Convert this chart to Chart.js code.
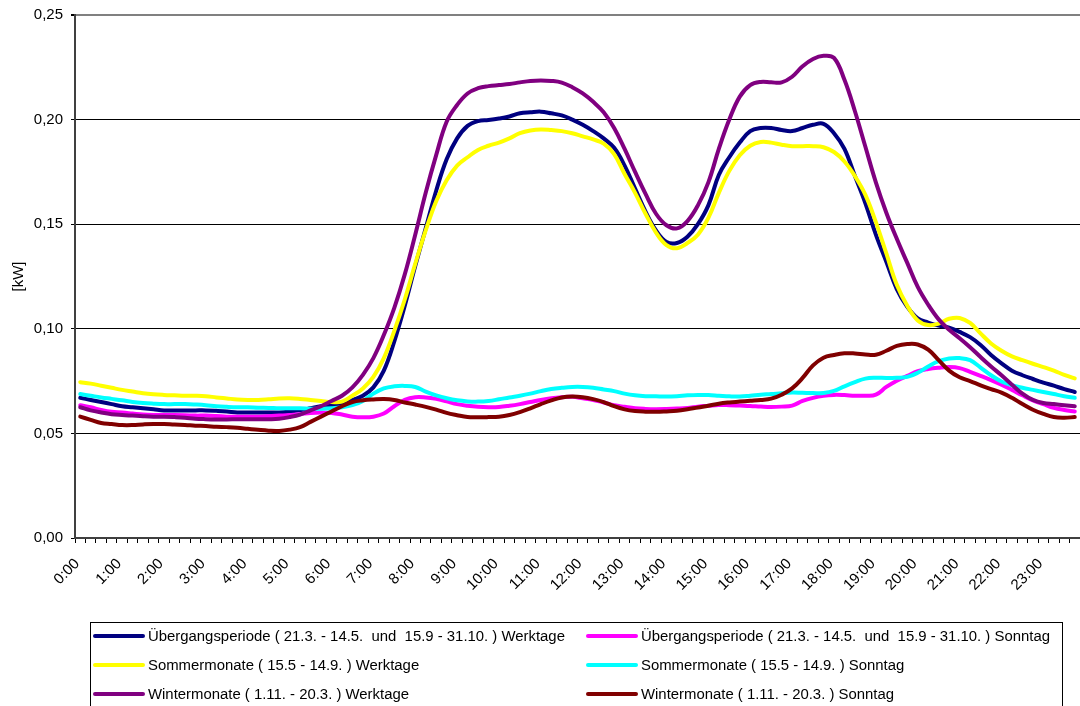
<!DOCTYPE html>
<html>
<head>
<meta charset="utf-8">
<script src="https://cdn.jsdelivr.net/npm/chart.js@4.4.1/dist/chart.umd.min.js"></script>
<style>
  html, body { margin: 0; padding: 0; background: #fff; }
  #wrap { position: relative; width: 1080px; height: 706px; overflow: hidden; }
  #legend {
    position: absolute; left: 90px; top: 622px; width: 973px; height: 100px;
    border: 1px solid #000; box-sizing: border-box;
    font: 14.9px "Liberation Sans", Arial, sans-serif; color: #000;
  }
  .item { position: absolute; display: flex; align-items: center; white-space: pre; height: 20px; }
  .swatch { width: 52px; height: 4px; border-radius: 2px; margin-right: 3px; }
</style>
</head>
<body>
<div id="wrap">
  <canvas id="chart" width="1080" height="706"></canvas>
  <div id="legend"></div>
</div>
<script>
// hour labels on the x axis; one category per quarter hour
const hours = ['0:00','1:00','2:00','3:00','4:00','5:00','6:00','7:00','8:00','9:00','10:00','11:00',
  '12:00','13:00','14:00','15:00','16:00','17:00','18:00','19:00','20:00','21:00','22:00','23:00'];
const quarters = ['00', '15', '30', '45'];
const times = hours.flatMap((h) => quarters.map((q) => h.replace(':00', ':' + q)));

const yTicks = [0, 0.05, 0.10, 0.15, 0.20, 0.25];

// [kW], 96 quarter-hour values per curve
const uebergangWerktage = [
  0.067, 0.066, 0.065, 0.064, 0.063, 0.0625, 0.062, 0.0615, 0.061, 0.061, 0.061, 0.061,
  0.061, 0.0608, 0.0605, 0.060, 0.060, 0.060, 0.060, 0.060, 0.0604, 0.061, 0.062, 0.063,
  0.0635, 0.064, 0.066, 0.068, 0.072, 0.080, 0.094, 0.111, 0.130, 0.148, 0.166, 0.181,
  0.191, 0.197, 0.1993, 0.1998, 0.2005, 0.2015, 0.203, 0.2035, 0.2038, 0.203, 0.202, 0.200,
  0.1975, 0.1945, 0.191, 0.1865, 0.178, 0.167, 0.156, 0.147, 0.1415, 0.141, 0.144, 0.150,
  0.159, 0.1735, 0.182, 0.189, 0.1945, 0.196, 0.196, 0.195, 0.1945, 0.196, 0.1975, 0.198,
  0.1935, 0.186, 0.173, 0.160, 0.145, 0.132, 0.119, 0.1105, 0.105, 0.103, 0.1015, 0.1005,
  0.0985, 0.096, 0.0923, 0.0875, 0.0835, 0.080, 0.0778, 0.076, 0.0743, 0.0728, 0.0712, 0.0698
];
const uebergangSonntag = [
  0.0635, 0.0625, 0.0612, 0.0603, 0.060, 0.0595, 0.059, 0.0588, 0.0588, 0.0588, 0.0587, 0.0585,
  0.0585, 0.0583, 0.058, 0.058, 0.058, 0.058, 0.0582, 0.0585, 0.0588, 0.0592, 0.0598, 0.060,
  0.0598, 0.059, 0.058, 0.0577, 0.058, 0.0595, 0.063, 0.066, 0.0673, 0.0672, 0.0665, 0.0653,
  0.064, 0.0632, 0.0627, 0.0625, 0.0626, 0.0632, 0.064, 0.065, 0.066, 0.0668, 0.0673, 0.0675,
  0.0668, 0.066, 0.0648, 0.0635, 0.0627, 0.062, 0.0617, 0.0616, 0.0617, 0.0619, 0.0622, 0.0628,
  0.0632, 0.0636, 0.0635, 0.0633, 0.0631, 0.0628, 0.0626, 0.0628, 0.0633, 0.0655, 0.067, 0.068,
  0.0684, 0.0683, 0.068, 0.068, 0.0685, 0.0722, 0.0752, 0.0775, 0.0797, 0.0808, 0.0814, 0.0817,
  0.0812, 0.0794, 0.0775, 0.0755, 0.0733, 0.0708, 0.0682, 0.0658, 0.064, 0.0622, 0.0612, 0.0605
];
const sommerWerktage = [
  0.0745, 0.0738, 0.0728, 0.0718, 0.0708, 0.070, 0.0692, 0.0687, 0.0684, 0.0682, 0.068, 0.068,
  0.0678, 0.0672, 0.0667, 0.0662, 0.066, 0.066, 0.0663, 0.0667, 0.0668, 0.0665, 0.066, 0.0655,
  0.065, 0.0652, 0.068, 0.0715, 0.077, 0.086, 0.099, 0.114, 0.131, 0.147, 0.161, 0.171,
  0.178, 0.182, 0.1855, 0.1875, 0.189, 0.191, 0.1935, 0.1948, 0.1953, 0.195, 0.1945, 0.1935,
  0.192, 0.1905, 0.1885, 0.1835, 0.174, 0.165, 0.155, 0.146, 0.140, 0.1385, 0.141, 0.145,
  0.153, 0.165, 0.1755, 0.183, 0.1875, 0.1893, 0.189, 0.188, 0.1873, 0.1873, 0.1873, 0.1868,
  0.1845, 0.180, 0.173, 0.164, 0.151, 0.136, 0.121, 0.111, 0.104, 0.1018, 0.1025, 0.1048,
  0.1052, 0.1028, 0.0978, 0.093, 0.0895, 0.0868, 0.085, 0.0833, 0.0817, 0.080, 0.078, 0.0763
];
const sommerSonntag = [
  0.0688, 0.068, 0.0672, 0.0665, 0.0658, 0.065, 0.0645, 0.0642, 0.064, 0.064, 0.064, 0.0638,
  0.0635, 0.063, 0.0627, 0.0625, 0.0625, 0.0623, 0.0622, 0.062, 0.062, 0.062, 0.0618, 0.0618,
  0.062, 0.0625, 0.0635, 0.0655, 0.069, 0.0715, 0.0725, 0.0727, 0.0722, 0.070, 0.0682, 0.0668,
  0.0658, 0.0653, 0.0652, 0.0655, 0.0663, 0.0672, 0.068, 0.069, 0.0702, 0.0712, 0.0718, 0.0722,
  0.0722, 0.0718, 0.071, 0.0702, 0.069, 0.0682, 0.0678, 0.0677, 0.0676, 0.0678, 0.0682, 0.0684,
  0.0683, 0.068, 0.0677, 0.0676, 0.068, 0.0685, 0.0688, 0.0692, 0.0695, 0.0694, 0.0693, 0.0693,
  0.0703, 0.0725, 0.0745, 0.0762, 0.0766, 0.0765, 0.0766, 0.077, 0.079, 0.082, 0.0845, 0.0858,
  0.086, 0.085, 0.0815, 0.0778, 0.0748, 0.073, 0.0718, 0.0708, 0.0698, 0.0688, 0.0678, 0.067
];
const winterWerktage = [
  0.0625, 0.061, 0.060, 0.0592, 0.0588, 0.0585, 0.0582, 0.058, 0.058, 0.0578, 0.0575, 0.057,
  0.0568, 0.0567, 0.0567, 0.0568, 0.0568, 0.0568, 0.0568, 0.057, 0.0578, 0.059, 0.061, 0.063,
  0.0655, 0.068, 0.072, 0.078, 0.086, 0.097, 0.110, 0.126, 0.145, 0.165, 0.183, 0.199,
  0.207, 0.2125, 0.215, 0.216, 0.2165, 0.217, 0.2178, 0.2185, 0.2187, 0.2185, 0.2177, 0.2155,
  0.2125, 0.2085, 0.2035, 0.196, 0.186, 0.175, 0.1645, 0.155, 0.1495, 0.148, 0.1515, 0.159,
  0.170, 0.186, 0.200, 0.211, 0.2165, 0.218, 0.2178, 0.2178, 0.2205, 0.2255, 0.229, 0.2305,
  0.2295, 0.219, 0.204, 0.187, 0.170, 0.1555, 0.143, 0.1315, 0.120, 0.1115, 0.1045, 0.0995,
  0.0955, 0.0912, 0.0865, 0.082, 0.0778, 0.0733, 0.069, 0.066, 0.0645, 0.064, 0.0635, 0.063
];
const winterSonntag = [
  0.058, 0.0565, 0.055, 0.0545, 0.054, 0.054, 0.0543, 0.0545, 0.0545, 0.0542, 0.054, 0.0537,
  0.0535, 0.0532, 0.053, 0.0527, 0.0522, 0.0517, 0.0513, 0.0512, 0.0518, 0.053, 0.0555, 0.058,
  0.0605, 0.063, 0.065, 0.0658, 0.0662, 0.0664, 0.066, 0.0648, 0.0638, 0.0627, 0.0614, 0.0598,
  0.0587, 0.0578, 0.0577, 0.0578, 0.058, 0.0588, 0.0602, 0.062, 0.064, 0.0658, 0.0672, 0.0676,
  0.0673, 0.0664, 0.065, 0.063, 0.0615, 0.0607, 0.0604, 0.0603, 0.0605, 0.0608, 0.0615, 0.0624,
  0.0632, 0.0642, 0.0648, 0.0652, 0.0656, 0.066, 0.0666, 0.0685, 0.0715, 0.0765, 0.0825, 0.0862,
  0.0875, 0.0883, 0.0882, 0.0877, 0.0876, 0.0895, 0.0918, 0.0927, 0.0925, 0.090, 0.085, 0.080,
  0.0768, 0.075, 0.073, 0.0712, 0.0695, 0.067, 0.064, 0.0613, 0.0593, 0.0578, 0.0575, 0.0578
];

const seriesNames = [
  'Übergangsperiode ( 21.3. - 14.5.  und  15.9 - 31.10. ) Werktage',
  'Übergangsperiode ( 21.3. - 14.5.  und  15.9 - 31.10. ) Sonntag',
  'Sommermonate ( 15.5 - 14.9. ) Werktage',
  'Sommermonate ( 15.5 - 14.9. ) Sonntag',
  'Wintermonate ( 1.11. - 20.3. ) Werktage',
  'Wintermonate ( 1.11. - 20.3. ) Sonntag'
];
const seriesValues = [uebergangWerktage, uebergangSonntag, sommerWerktage, sommerSonntag, winterWerktage, winterSonntag];
const seriesColors = ['#000080', '#FF00FF', '#FFFF00', '#00FFFF', '#800080', '#800000'];

const font = { family: "'Liberation Sans', Arial, sans-serif", size: 15 };

const datasets = seriesNames.map((name, i) => ({
  label: name,
  data: seriesValues[i],
  borderColor: seriesColors[i],
  backgroundColor: seriesColors[i],
  borderWidth: 4,
  pointRadius: 0,
  tension: 0.4,
  borderCapStyle: 'round',
  borderJoinStyle: 'round',
  fill: false,
  order: seriesNames.length - i // later series on top, like the original
}));

const chart = new Chart(document.getElementById('chart'), {
  type: 'line',
  data: { labels: times, datasets },
  options: {
    responsive: false,
    animation: false,
    layout: { padding: { top: 15, left: 0, right: 0, bottom: 0 } },
    plugins: { legend: { display: false }, tooltip: { enabled: false } },
    scales: {
      x: {
        offset: true,
        grid: { offset: true, drawOnChartArea: false, tickLength: 5, color: '#000', tickColor: '#000' },
        border: { color: '#404040', width: 2 },
        ticks: {
          autoSkip: false, maxRotation: 45, minRotation: 45, padding: 12, labelOffset: -3,
          color: '#000', font,
          callback: (v, i) => (i % 4 === 0 ? hours[i / 4] : '')
        },
        afterFit: (s) => { s.height = 168; s.paddingLeft = 0; s.paddingRight = 0; }
      },
      y: {
        min: yTicks[0],
        max: yTicks[yTicks.length - 1],
        afterBuildTicks: (s) => { s.ticks = yTicks.map((v) => ({ value: v })); },
        ticks: { padding: 8, color: '#000', font, callback: (v) => Number(v).toFixed(2).replace('.', ',') },
        grid: {
          color: (c) => (c.tick && c.tick.value > 0.249 ? '#808080' : '#000'),
          lineWidth: (c) => (c.tick && c.tick.value > 0.249 ? 2 : 1),
          tickLength: 4,
          tickColor: '#000'
        },
        border: { color: '#404040', width: 2 },
        title: { display: true, text: '[kW]', color: '#000', font, padding: { top: 10, bottom: 0 } },
        afterFit: (s) => { s.width = 75; s.paddingTop = 0; s.paddingBottom = 0; }
      }
    }
  }
});

// legend: two columns, three rows, built from the chart's datasets
const legend = document.getElementById('legend');
chart.data.datasets.forEach((ds, i) => {
  const item = document.createElement('div');
  item.className = 'item';
  item.style.left = (i % 2 === 0 ? 2 : 495) + 'px';
  item.style.top = (3 + Math.floor(i / 2) * 29) + 'px';
  const sw = document.createElement('span');
  sw.className = 'swatch';
  sw.style.background = ds.borderColor;
  const tx = document.createElement('span');
  tx.textContent = ds.label;
  item.appendChild(sw);
  item.appendChild(tx);
  legend.appendChild(item);
});
</script>
</body>
</html>
